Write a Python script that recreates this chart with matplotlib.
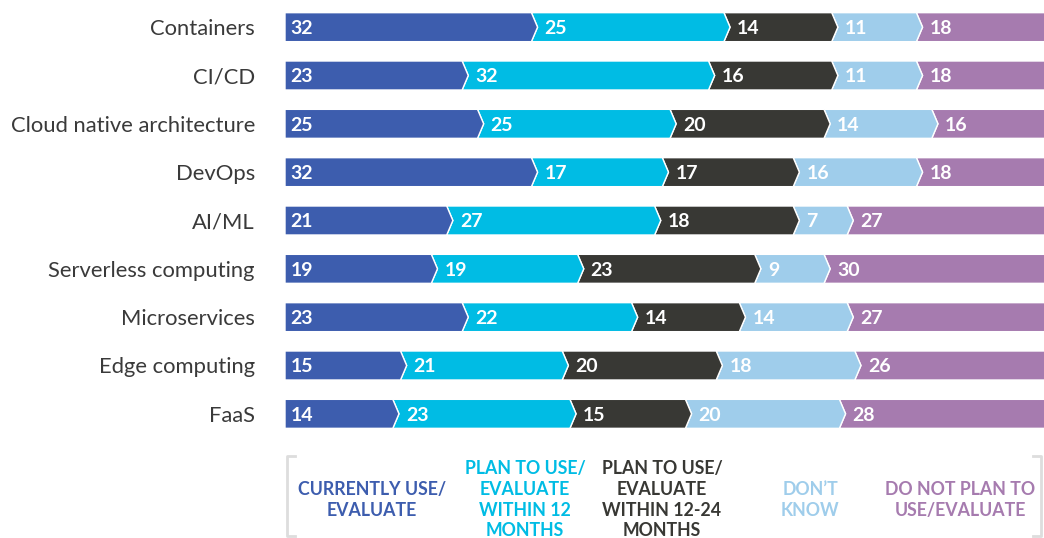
import matplotlib.pyplot as plt
from matplotlib.patches import Polygon
from matplotlib.lines import Line2D

plt.rcParams['font.family'] = ['Lato', 'DejaVu Sans']

categories = ['Containers', 'CI/CD', 'Cloud native architecture', 'DevOps', 'AI/ML',
              'Serverless computing', 'Microservices', 'Edge computing', 'FaaS']
currently_use = [32, 23, 25, 32, 21, 19, 23, 15, 14]
plan_12 = [25, 32, 25, 17, 27, 19, 22, 21, 23]
plan_12_24 = [14, 16, 20, 17, 18, 23, 14, 20, 15]
dont_know = [11, 11, 14, 16, 7, 9, 14, 18, 20]
do_not_plan = [18, 18, 16, 18, 27, 30, 27, 26, 28]

series = [currently_use, plan_12, plan_12_24, dont_know, do_not_plan]
legend_labels = ['CURRENTLY USE/\nEVALUATE', 'PLAN TO USE/\nEVALUATE\nWITHIN 12\nMONTHS',
                 'PLAN TO USE/\nEVALUATE\nWITHIN 12-24\nMONTHS', "DON\u2019T\nKNOW",
                 'DO NOT PLAN TO\nUSE/EVALUATE']
colors = ['#3D5DAE', '#00BCE4', '#383834', '#9FCDEB', '#A67BAF']

fig = plt.figure(figsize=(10.44, 5.38), dpi=100)
# 100% spans 770 px; the last segment runs off the right edge
ax = fig.add_axes([285 / 1044, 1 - 438 / 538, 770 / 1044, (438 - 3) / 538])
ax.set_xlim(0, 100)
ax.set_ylim(len(categories) - 0.5, -0.5)
ax.axis('off')

h = 0.30   # half bar height
tip = 0.8  # chevron depth in data units

for i, cat in enumerate(categories):
    left = 0
    for k, vals in enumerate(series):
        w = vals[i]
        right = left + w
        last = k == len(series) - 1
        pts = [(left, i - h)]
        if k > 0:
            pts.append((left + tip, i))
        pts.append((left, i + h))
        if last:
            pts += [(right, i + h), (right, i - h)]
        else:
            pts += [(right, i + h), (right + tip, i), (right, i - h)]
        ax.add_patch(Polygon(pts, closed=True, facecolor=colors[k],
                             edgecolor='white', linewidth=1.0, zorder=3 + len(series) - k))
        xoff = 0.7 if k == 0 else tip + 0.9
        ax.text(left + xoff, i + 0.03, str(w), color='white', fontsize=14,
                fontweight='bold', ha='left', va='center', zorder=20)
        left = right
    ax.text(-3.9, i + 0.04, cat, ha='right', va='center', fontsize=15.8, color='#3a3a3a')

# legend with bracket
legend_x = [372, 525, 662, 810, 960]
for lx, lab, c in zip(legend_x, legend_labels, colors):
    nlines = lab.count('\n') + 1
    y_top = 460 if nlines == 4 else 481
    fig.text(lx / 1044, 1 - y_top / 538, lab, ha='center', va='top', color=c,
             fontsize=12.8, fontweight='bold', linespacing=1.27)

gray = '#DDDDDD'
for xs, ys in [([295, 287, 287, 295], [456, 456, 536, 536]),
               ([1033, 1041, 1041, 1033], [456, 456, 536, 536])]:
    fig.add_artist(Line2D([x / 1044 for x in xs], [1 - y / 538 for y in ys],
                          color=gray, linewidth=2, transform=fig.transFigure))

fig.savefig('out.png', dpi=100)
